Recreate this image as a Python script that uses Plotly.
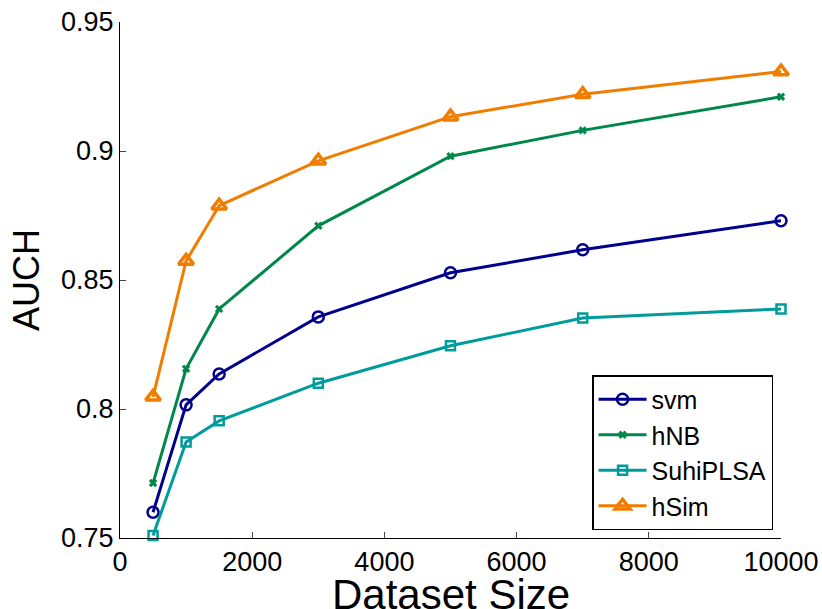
import plotly.graph_objects as go

dataset_size = [500, 1000, 1500, 3000, 5000, 7000, 10000]
svm = [0.760, 0.8016, 0.8136, 0.8357, 0.8528, 0.8617, 0.8730]
hnb = [0.7713, 0.8156, 0.8388, 0.8710, 0.8980, 0.9080, 0.9210]
suhiplsa = [0.7510, 0.7872, 0.7954, 0.8100, 0.8245, 0.8353, 0.8388]
hsim = [0.8047, 0.8574, 0.8788, 0.8962, 0.9133, 0.9220, 0.9308]

x_ticks = [0, 2000, 4000, 6000, 8000, 10000]
x_tick_text = ["0", "2000", "4000", "6000", "8000", "10000"]
y_ticks = [0.75, 0.8, 0.85, 0.9, 0.95]
y_tick_text = ["0.75", "0.8", "0.85", "0.9", "0.95"]

series = [
    ("svm", svm, "#00008C", "circle-open", 11, 2.5),
    ("hNB", hnb, "#00874A", "x", 7, 0.5),
    ("SuhiPLSA", suhiplsa, "#009B9B", "square-open", 9, 2.5),
    ("hSim", hsim, "#F07D00", "triangle-up-open", 13, 3.5),
]

fig = go.Figure()
for name, ys, color, sym, size, mlw in series:
    fig.add_trace(go.Scatter(
        x=dataset_size, y=ys, name=name, mode="lines+markers",
        line=dict(color=color, width=3),
        marker=dict(symbol=sym, size=size, color=color, line=dict(color=color, width=mlw)),
        cliponaxis=False,
    ))

font = "Liberation Sans, Arial, sans-serif"
fig.update_layout(
    width=822, height=609,
    margin=dict(l=120, r=41, t=22, b=71, autoexpand=False),
    paper_bgcolor="white", plot_bgcolor="white",
    font=dict(family=font, color="black", size=27),
    showlegend=True,
    legend=dict(
        x=0.988, y=0.0155, xanchor="right", yanchor="bottom",
        bgcolor="white", bordercolor="black", borderwidth=1.5,
        font=dict(size=25, family=font),
        tracegroupgap=0, itemsizing="trace", itemwidth=48,
    ),
    xaxis=dict(
        range=[0, 10000], tickvals=x_ticks, ticktext=x_tick_text, ticks="inside", ticklen=6,
        showline=True, linecolor="black", linewidth=1, showgrid=False, zeroline=False,
        tickfont=dict(size=27), automargin=False, ticklabeloverflow="allow",
    ),
    yaxis=dict(
        range=[0.75, 0.95], tickvals=y_ticks, ticktext=y_tick_text, ticks="inside", ticklen=6,
        showline=True, linecolor="black", linewidth=1, showgrid=False, zeroline=False,
        tickfont=dict(size=27), automargin=False, ticklabeloverflow="allow",
        title=dict(text="AUCH", font=dict(size=36), standoff=10),
    ),
    annotations=[dict(
        text="Dataset Size", xref="paper", yref="paper", x=0.5, y=0,
        xanchor="center", yanchor="top", yshift=-31, showarrow=False,
        font=dict(size=42, family=font, color="black"),
    )],
)

fig.write_html(
    "out.html",
    config={"displayModeBar": False},
    post_script="document.body.style.margin='0';document.body.style.overflow='hidden';",
)
